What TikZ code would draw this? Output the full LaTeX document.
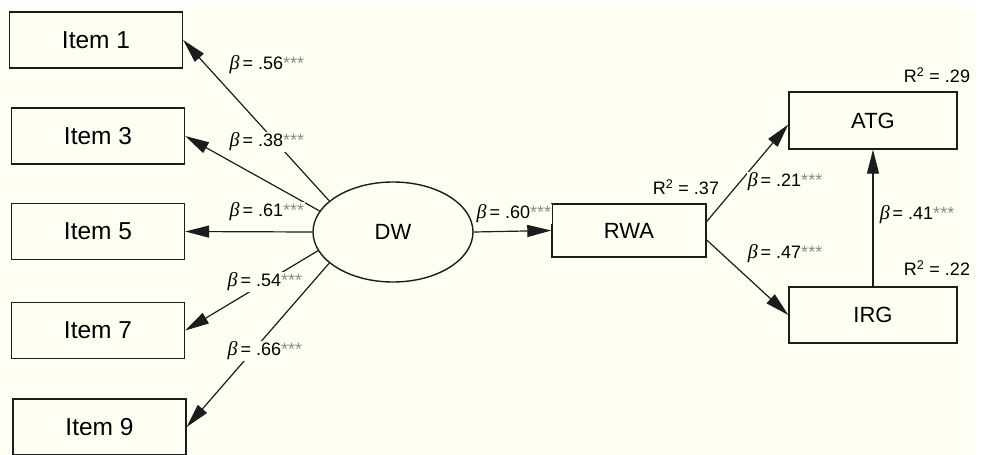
\documentclass[tikz,border=0pt]{standalone}
\usepackage{fontspec}
\setmainfont{Liberation Sans}
\newfontfamily\betafont{Liberation Serif}
\usetikzlibrary{arrows.meta,shapes.geometric}
\definecolor{cream}{RGB}{254,254,242}
\definecolor{ink}{RGB}{28,28,28}
\definecolor{stargray}{RGB}{140,140,140}
\newcommand\betalab[1]{{\betafont\itshape\fontsize{20}{20}\selectfont β}\,= #1\textcolor{stargray}{***}}
\begin{document}
\begin{tikzpicture}[x=1pt,y=-1pt,
  box/.style={draw=ink,line width=1.4pt,fill=cream,inner sep=0pt,font=\fontsize{22}{26}\selectfont},
  itembox/.style={box,minimum width=173pt,minimum height=56pt,font=\fontsize{24.5}{28}\selectfont},
  conn/.style={draw=ink,line width=1.2pt,-{Triangle[length=24pt,width=12pt]}},
  lab/.style={fill=cream,inner sep=1pt,font=\fontsize{18}{20}\selectfont},
  rsq/.style={inner sep=0pt,font=\fontsize{18}{20}\selectfont}]
\useasboundingbox (0,0) rectangle (991,455);
\fill[white] (0,0) rectangle (991,455);
\fill[cream] (0,7) rectangle (975,455);

% boxes
\node[itembox] (i1) at (96,40) {Item 1};
\node[itembox] (i3) at (98,136) {Item 3};
\node[itembox] (i5) at (98,231.5) {Item 5};
\node[itembox] (i7) at (98,330.5) {Item 7};
\node[itembox] (i9) at (99.5,427) {Item 9};
\node[box,ellipse,minimum width=160pt,minimum height=100pt] (dw) at (393,232) {DW};
\node[box,minimum width=154pt,minimum height=53pt] (rwa) at (629,230.5) {RWA};
\node[box,minimum width=168pt,minimum height=57pt] (atg) at (873,120.5) {ATG};
\node[box,minimum width=168pt,minimum height=56pt] (irg) at (873,315) {IRG};

% connectors
\draw[conn] (dw.154) -- (i1.east);
\draw[conn] (dw.164) -- (i3.east);
\draw[conn] (dw.180) -- (i5.east);
\draw[conn] (dw.194) -- (i7.east);
\draw[conn] (dw.206) -- (i9.east);
\draw[conn] (dw.east) -- (rwa.west);
\draw[conn] ([yshift=9pt]rwa.east) -- ([yshift=-4pt]atg.west);
\draw[conn] ([yshift=-9.5pt]rwa.east) -- (irg.west);
\draw[conn] (irg.north) -- (atg.south);

% labels
\node[lab] (l1) at (267,65) {\betalab{.56}};
\node[lab] (l3) at (267,142) {\betalab{.38}};
\node[lab] (l5) at (267,212) {\betalab{.61}};
\node[lab] (l7) at (265,282) {\betalab{.54}};
\node[lab] (l9) at (265,351) {\betalab{.66}};
\node[lab] (l60) at (514,214) {\betalab{.60}};
\node[lab] (l21) at (785,182) {\betalab{.21}};
\node[lab] (l47) at (785,254) {\betalab{.47}};
\node[lab] (l41) at (917,215) {\betalab{.41}};

\node[rsq] (r29) at (937,75) {R\textsuperscript{2} = .29};
\node[rsq] (r37) at (686,187) {R\textsuperscript{2} = .37};
\node[rsq] (r22) at (937,268) {R\textsuperscript{2} = .22};
\end{tikzpicture}
\end{document}
